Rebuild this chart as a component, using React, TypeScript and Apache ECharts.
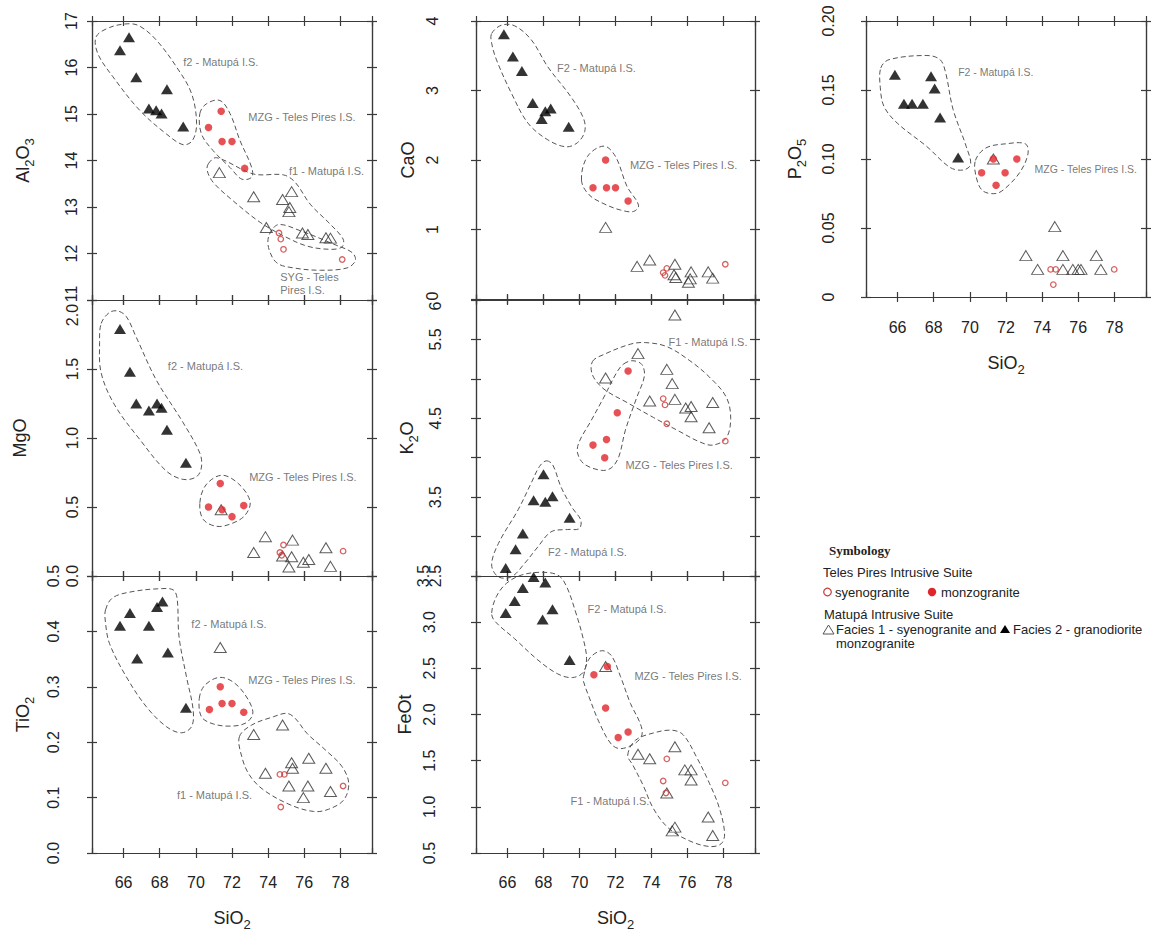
import React, { useEffect, useRef } from "react";
import * as echarts from "echarts";

type P = [number, number];
type Note = [number, number, string];

// ---------- shared x axis (SiO2) ----------
const X_MIN = 64.25;
const X_MAX = 79.75;
const sio2TickLabels = [66, 68, 70, 72, 74, 76, 78];

// ---------- Al2O3 ----------
const al2o3F2: P[] = [[65.8, 16.37], [66.3, 16.65], [66.7, 15.79], [67.4, 15.12], [67.8, 15.08], [68.1, 15.01], [68.4, 15.53], [69.3, 14.73]];
const al2o3Mzg: P[] = [[70.7, 14.71], [71.4, 15.06], [71.45, 14.41], [72.0, 14.41], [72.7, 13.83]];
const al2o3F1: P[] = [[71.3, 13.74], [73.2, 13.22], [75.3, 13.33], [74.8, 13.16], [75.2, 12.99], [75.15, 12.9], [73.9, 12.56], [75.9, 12.44], [76.2, 12.41], [77.2, 12.34], [77.45, 12.33]];
const al2o3Syg: P[] = [[74.6, 12.44], [74.7, 12.31], [74.85, 12.09], [78.1, 11.87]];
const al2o3EnvF2: P[] = [[64.48, 16.66], [65.22, 16.86], [66.24, 16.94], [66.89, 16.89], [67.81, 16.59], [68.93, 16.01], [69.76, 15.44], [70.04, 14.79], [69.81, 14.43], [69.3, 14.34], [68.37, 14.57], [66.89, 15.08], [65.41, 15.8], [64.57, 16.3]];
const al2o3EnvMzg: P[] = [[70.22, 15.01], [70.59, 15.22], [71.33, 15.29], [71.89, 15.01], [72.44, 14.43], [73.09, 13.85], [73.09, 13.64], [72.54, 13.6], [71.89, 13.85], [70.96, 14.21], [70.31, 14.57]];
const al2o3EnvF1: P[] = [[70.69, 13.93], [71.15, 14.06], [73.19, 13.71], [74.85, 13.69], [75.5, 13.53], [76.33, 13.06], [77.44, 12.63], [78.15, 12.31], [78.09, 12.14], [77.44, 12.09], [76.15, 12.16], [74.85, 12.38], [73.56, 12.67], [72.07, 13.13], [70.96, 13.53], [70.63, 13.78]];
const al2o3EnvSyg: P[] = [[74.07, 12.41], [74.57, 12.62], [75.78, 12.49], [77.63, 12.2], [78.65, 12.02], [78.83, 11.85], [78.37, 11.69], [76.89, 11.64], [75.41, 11.69], [74.48, 11.8], [74.02, 12.13]];
const al2o3Notes: Note[] = [[69.3, 16.12, "f2 - Matupá I.S."], [72.9, 14.93, "MZG - Teles Pires I.S."], [75.15, 13.78, "f1 - Matupá I.S."], [74.67, 11.36, "SYG - Teles\nPires I.S."]];

// ---------- MgO ----------
const mgoF2: P[] = [[65.8, 1.79], [66.35, 1.48], [66.7, 1.25], [67.4, 1.2], [67.85, 1.25], [68.1, 1.22], [68.4, 1.06], [69.45, 0.82]];
const mgoMzg: P[] = [[70.7, 0.5], [71.35, 0.67], [71.45, 0.48], [72.0, 0.43], [72.65, 0.51]];
const mgoF1: P[] = [[71.4, 0.48], [73.2, 0.17], [73.85, 0.285], [74.8, 0.145], [75.35, 0.26], [75.3, 0.14], [75.15, 0.065], [75.95, 0.1], [76.25, 0.12], [77.2, 0.205], [77.45, 0.07]];
const mgoSyg: P[] = [[74.85, 0.225], [74.65, 0.17], [74.75, 0.15], [78.15, 0.18]];
const mgoEnvF2: P[] = [[64.76, 1.83], [65.22, 1.91], [65.69, 1.92], [66.15, 1.88], [66.7, 1.73], [67.81, 1.42], [69.3, 1.11], [70.22, 0.89], [70.31, 0.79], [70.04, 0.72], [69.3, 0.7], [68.37, 0.76], [66.89, 0.99], [65.5, 1.24], [64.76, 1.47], [64.67, 1.69]];
const mgoEnvMzg: P[] = [[70.22, 0.53], [70.56, 0.66], [71.43, 0.73], [72.35, 0.67], [73.0, 0.54], [72.72, 0.44], [71.98, 0.38], [71.15, 0.36], [70.41, 0.41]];
const mgoNotes: Note[] = [[68.45, 1.52, "f2 - Matupá I.S."], [72.95, 0.715, "MZG - Teles Pires I.S."]];

// ---------- TiO2 ----------
const tio2F2: P[] = [[65.8, 0.41], [66.35, 0.433], [66.75, 0.351], [67.4, 0.41], [67.85, 0.444], [68.15, 0.454], [68.45, 0.362], [69.45, 0.262]];
const tio2Mzg: P[] = [[70.75, 0.259], [71.35, 0.3], [71.45, 0.27], [72.0, 0.27], [72.65, 0.254]];
const tio2F1: P[] = [[71.35, 0.371], [73.2, 0.214], [74.8, 0.231], [73.85, 0.144], [75.3, 0.163], [75.35, 0.153], [75.15, 0.121], [76.25, 0.171], [76.2, 0.121], [75.95, 0.1], [77.2, 0.153], [77.45, 0.111]];
const tio2Syg: P[] = [[74.65, 0.142], [74.9, 0.142], [74.7, 0.083], [78.15, 0.121]];
const tio2EnvF2: P[] = [[65.0, 0.439], [65.41, 0.461], [66.52, 0.472], [68.0, 0.477], [68.74, 0.475], [68.96, 0.46], [69.07, 0.39], [69.48, 0.318], [69.85, 0.258], [69.76, 0.228], [69.2, 0.217], [68.37, 0.228], [67.26, 0.264], [66.15, 0.318], [65.22, 0.378], [65.0, 0.415]];
const tio2EnvMzg: P[] = [[70.19, 0.279], [70.5, 0.303], [71.33, 0.317], [72.17, 0.306], [72.91, 0.276], [73.15, 0.251], [72.72, 0.234], [71.89, 0.229], [70.96, 0.233], [70.31, 0.246]];
const tio2EnvF1: P[] = [[72.41, 0.21], [73.09, 0.231], [74.3, 0.246], [75.04, 0.252], [75.5, 0.243], [76.15, 0.216], [77.17, 0.186], [78.09, 0.156], [78.46, 0.126], [78.19, 0.096], [77.35, 0.079], [76.52, 0.075], [75.22, 0.087], [73.74, 0.114], [72.96, 0.141], [72.54, 0.174]];
const tio2Notes: Note[] = [[69.75, 0.413, "f2 - Matupá I.S."], [72.9, 0.312, "MZG - Teles Pires I.S."], [68.95, 0.105, "f1 - Matupá I.S."]];

// ---------- CaO ----------
const caoF2: P[] = [[65.8, 3.81], [66.3, 3.49], [66.8, 3.28], [67.4, 2.82], [67.9, 2.59], [68.1, 2.7], [68.4, 2.74], [69.4, 2.48]];
const caoMzg: P[] = [[70.75, 1.6], [71.45, 2.0], [71.5, 1.6], [72.0, 1.6], [72.7, 1.41]];
const caoF1: P[] = [[71.45, 1.03], [73.2, 0.47], [73.9, 0.56], [75.3, 0.5], [75.25, 0.35], [75.35, 0.31], [76.2, 0.39], [76.05, 0.24], [76.15, 0.29], [77.15, 0.39], [77.4, 0.3]];
const caoSyg: P[] = [[74.85, 0.44], [74.65, 0.38], [74.75, 0.34], [78.1, 0.5]];
const caoEnvF2: P[] = [[65.12, 3.82], [65.67, 3.94], [66.4, 3.93], [67.32, 3.73], [68.24, 3.34], [69.52, 2.91], [70.22, 2.6], [70.29, 2.41], [69.89, 2.25], [69.25, 2.19], [68.24, 2.29], [67.14, 2.53], [66.22, 2.96], [65.39, 3.44], [65.12, 3.68]];
const caoEnvMzg: P[] = [[70.11, 1.71], [70.44, 2.05], [71.36, 2.2], [72.0, 2.05], [72.64, 1.62], [73.28, 1.35], [73.01, 1.26], [72.28, 1.28], [71.36, 1.37], [70.53, 1.5]];
const caoNotes: Note[] = [[68.75, 3.32, "F2 - Matupá I.S."], [72.8, 1.93, "MZG - Teles Pires I.S."]];

// ---------- K2O ----------
const k2oF2: P[] = [[65.9, 2.6], [66.45, 2.84], [66.85, 3.04], [67.45, 3.46], [68.0, 3.79], [68.1, 3.44], [68.5, 3.51], [69.45, 3.24]];
const k2oMzg: P[] = [[72.7, 5.1], [72.1, 4.57], [71.5, 4.23], [70.75, 4.16], [71.4, 4.0]];
const k2oF1: P[] = [[75.3, 5.81], [73.25, 5.32], [71.45, 5.01], [74.85, 5.12], [75.15, 4.94], [73.9, 4.72], [75.3, 4.74], [75.9, 4.63], [76.2, 4.65], [76.2, 4.52], [77.4, 4.7], [77.2, 4.38]];
const k2oSyg: P[] = [[74.65, 4.75], [74.75, 4.67], [74.85, 4.43], [78.1, 4.21]];
const k2oEnvF1: P[] = [[70.72, 5.22], [71.36, 5.31], [72.83, 5.44], [73.65, 5.46], [74.84, 5.41], [76.13, 5.23], [77.23, 5.02], [78.15, 4.77], [78.4, 4.5], [78.15, 4.25], [77.41, 4.16], [76.68, 4.2], [75.58, 4.33], [74.11, 4.51], [72.64, 4.7], [71.36, 4.87], [70.72, 5.05]];
const k2oEnvMzg: P[] = [[72.46, 5.19], [72.97, 5.23], [73.47, 5.18], [73.6, 5.03], [73.19, 4.77], [72.55, 4.35], [72.18, 4.01], [71.76, 3.87], [71.21, 3.84], [70.26, 3.92], [69.89, 4.06], [69.98, 4.2], [70.62, 4.46], [71.36, 4.77], [72.09, 5.09]];
const k2oEnvF2: P[] = [[68.15, 3.96], [68.51, 3.91], [68.97, 3.63], [69.61, 3.36], [70.07, 3.21], [69.98, 3.1], [69.34, 3.09], [68.42, 3.06], [67.69, 2.87], [66.95, 2.66], [66.22, 2.49], [65.49, 2.49], [65.12, 2.64], [65.49, 2.91], [66.59, 3.34], [67.32, 3.68], [67.78, 3.89]];
const k2oNotes: Note[] = [[74.95, 5.47, "F1 - Matupá I.S."], [72.55, 3.91, "MZG - Teles Pires I.S."], [68.25, 2.81, "F2 - Matupá I.S."]];

// ---------- FeOt ----------
const feotF2: P[] = [[65.9, 3.1], [66.4, 3.23], [66.85, 3.37], [67.45, 3.49], [67.95, 3.03], [68.1, 3.43], [68.5, 3.14], [69.45, 2.59]];
const feotMzg: P[] = [[70.8, 2.43], [71.55, 2.52], [71.45, 2.07], [72.15, 1.75], [72.7, 1.81]];
const feotF1: P[] = [[71.45, 2.52], [73.25, 1.57], [73.9, 1.52], [75.3, 1.65], [75.85, 1.4], [76.2, 1.4], [76.2, 1.29], [74.85, 1.15], [75.3, 0.78], [75.15, 0.74], [77.15, 0.89], [77.4, 0.69]];
const feotSyg: P[] = [[74.85, 1.52], [74.65, 1.28], [74.8, 1.15], [78.1, 1.26]];
const feotEnvF2: P[] = [[65.12, 3.1], [65.39, 3.28], [65.94, 3.42], [66.77, 3.51], [67.87, 3.54], [68.79, 3.51], [69.25, 3.4], [69.8, 3.1], [70.22, 2.81], [70.39, 2.61], [70.22, 2.46], [69.61, 2.4], [68.79, 2.44], [67.69, 2.59], [66.4, 2.82], [65.3, 3.01]];
const feotEnvMzg: P[] = [[70.22, 2.41], [70.53, 2.6], [71.21, 2.69], [71.76, 2.64], [72.28, 2.41], [72.83, 2.12], [73.38, 1.9], [73.47, 1.78], [73.1, 1.69], [72.28, 1.63], [71.76, 1.68], [71.08, 1.92], [70.53, 2.19], [70.22, 2.36]];
const feotEnvF1: P[] = [[72.68, 1.56], [73.1, 1.72], [74.11, 1.8], [75.12, 1.83], [75.76, 1.78], [76.5, 1.54], [77.23, 1.25], [77.78, 0.98], [78.06, 0.71], [77.87, 0.6], [77.23, 0.57], [76.13, 0.63], [74.94, 0.77], [74.11, 0.98], [73.52, 1.24], [72.97, 1.45]];
const feotNotes: Note[] = [[70.45, 3.14, "F2 - Matupá I.S."], [73.05, 2.42, "MZG - Teles Pires I.S."], [69.5, 1.06, "F1 - Matupá I.S."]];

// ---------- P2O5 ----------
const p2o5F2: P[] = [[65.85, 0.161], [66.35, 0.14], [66.8, 0.14], [67.4, 0.14], [67.85, 0.16], [68.05, 0.151], [68.35, 0.13], [69.35, 0.101]];
const p2o5Mzg: P[] = [[70.65, 0.09], [71.3, 0.1], [71.45, 0.081], [71.95, 0.09], [72.6, 0.1]];
const p2o5F1: P[] = [[71.3, 0.1], [73.1, 0.03], [73.75, 0.02], [74.7, 0.051], [75.15, 0.03], [75.15, 0.02], [75.7, 0.02], [76.0, 0.02], [76.15, 0.02], [77.0, 0.03], [77.25, 0.02]];
const p2o5Syg: P[] = [[74.47, 0.02], [74.75, 0.02], [74.62, 0.009], [77.99, 0.02]];
const p2o5EnvF2: P[] = [[65.07, 0.166], [65.53, 0.172], [67.62, 0.175], [68.35, 0.172], [68.65, 0.163], [69.07, 0.136], [69.8, 0.109], [70.04, 0.096], [69.62, 0.092], [68.89, 0.094], [67.62, 0.109], [65.98, 0.126], [65.25, 0.138], [65.04, 0.152]];
const p2o5EnvMzg: P[] = [[70.31, 0.099], [70.89, 0.108], [71.98, 0.111], [73.07, 0.111], [73.22, 0.104], [72.8, 0.091], [71.98, 0.079], [71.44, 0.075], [70.71, 0.077], [70.35, 0.087]];
const p2o5Notes: Note[] = [[69.35, 0.163, "F2 - Matupá I.S."], [73.58, 0.093, "MZG - Teles Pires I.S."]];

// ---------- styling ----------
const FONT = '"Liberation Sans", Arial, Helvetica, sans-serif';
const AXIS_COLOR = "#3a3a3a";
const TEXT_COLOR = "#222";
const NOTE_COLOR = "#555";
const RED = "#e1262b";
const RED_OPEN = "#cc3a3a";

const nameRich = {
  b: { fontSize: 18, fontFamily: FONT, color: TEXT_COLOR, verticalAlign: "top", padding: [0, 0, 4, 0] },
  s: { fontSize: 13, fontFamily: FONT, color: TEXT_COLOR, verticalAlign: "bottom" },
};

const near = (a: number, b: number) => Math.abs(a - b) < 1e-9;

interface Panel {
  name: string;
  left: number;
  top: number;
  width: number;
  height: number;
  yMin: number;
  yMax: number;
  yStep: number;
  labelMargin: number;
  nameGap: number;
  xLabels: boolean;
  xNameGap?: number;
  xLabelMargin?: number;
  fmt: (v: number) => string;
  rich?: Record<string, any>;
  f2: P[];
  mzg: P[];
  f1: P[];
  syg: P[];
  envs: P[][];
  notes: Note[];
  noteSize?: number;
}

const lblRich = (padding: number[]) => ({ fontSize: 16, fontFamily: FONT, color: TEXT_COLOR, padding });

const panels: Panel[] = [
  {
    name: "{b|Al}{s|2}{b|O}{s|3}", left: 92, top: 21, width: 280, height: 279,
    yMin: 11, yMax: 17, yStep: 1, labelMargin: 13, nameGap: 56, xLabels: false,
    fmt: (v) => (near(v, 11) ? "{lo|11}" : String(Math.round(v))),
    rich: { lo: lblRich([0, 0, 0, 12]) },
    f2: al2o3F2, mzg: al2o3Mzg, f1: al2o3F1, syg: al2o3Syg,
    envs: [al2o3EnvF2, al2o3EnvMzg, al2o3EnvF1, al2o3EnvSyg], notes: al2o3Notes,
  },
  {
    name: "{b|MgO}", left: 92, top: 300, width: 280, height: 276,
    yMin: 0, yMax: 2, yStep: 0.5, labelMargin: 12, nameGap: 59, xLabels: false,
    fmt: (v) => (near(v, 2) ? "{hi|2.0}" : v.toFixed(1)),
    rich: { hi: lblRich([0, 30, 0, 0]) },
    f2: mgoF2, mzg: mgoMzg, f1: mgoF1, syg: mgoSyg,
    envs: [mgoEnvF2, mgoEnvMzg], notes: mgoNotes,
  },
  {
    name: "{b|TiO}{s|2}", left: 92, top: 576, width: 280, height: 277,
    yMin: 0, yMax: 0.5, yStep: 0.1, labelMargin: 31, nameGap: 56, xLabels: true, xNameGap: 56, xLabelMargin: 21,
    fmt: (v) => v.toFixed(1),
    f2: tio2F2, mzg: tio2Mzg, f1: tio2F1, syg: tio2Syg,
    envs: [tio2EnvF2, tio2EnvMzg, tio2EnvF1], notes: tio2Notes,
  },
  {
    name: "{b|CaO}", left: 476, top: 21, width: 279, height: 278,
    yMin: 0, yMax: 4, yStep: 1, labelMargin: 36, nameGap: 55, xLabels: false,
    fmt: (v) => (near(v, 0) ? "{lo|0}" : String(Math.round(v))),
    rich: { lo: lblRich([0, 0, 0, 6]) },
    f2: caoF2, mzg: caoMzg, f1: caoF1, syg: caoSyg,
    envs: [caoEnvF2, caoEnvMzg], notes: caoNotes,
  },
  {
    name: "{b|K}{s|2}{b|O}", left: 476, top: 300, width: 279, height: 276,
    yMin: 2.5, yMax: 6, yStep: 0.5, labelMargin: 33, nameGap: 56, xLabels: false,
    fmt: (v) => {
      if (near(v, 6)) return "{hi|6}";
      if (near(v, Math.round(v))) return "";
      return v.toFixed(1);
    },
    rich: { hi: lblRich([0, 12, 0, 0]) },
    f2: k2oF2, mzg: k2oMzg, f1: k2oF1, syg: k2oSyg,
    envs: [k2oEnvF1, k2oEnvMzg, k2oEnvF2], notes: k2oNotes,
  },
  {
    name: "{b|FeOt}", left: 476, top: 576, width: 279, height: 277,
    yMin: 0.5, yMax: 3.5, yStep: 0.5, labelMargin: 39, nameGap: 55, xLabels: true, xNameGap: 56, xLabelMargin: 21,
    fmt: (v) => (near(v, 3.5) ? "{far|3.5}" : v.toFixed(1)),
    rich: { far: lblRich([0, 0, 6, 0]) },
    f2: feotF2, mzg: feotMzg, f1: feotF1, syg: feotSyg,
    envs: [feotEnvF2, feotEnvMzg, feotEnvF1], notes: feotNotes,
  },
  {
    name: "{b|P}{s|2}{b|O}{s|5}", left: 866, top: 21, width: 280, height: 276,
    yMin: 0, yMax: 0.2, yStep: 0.05, labelMargin: 30, nameGap: 58, xLabels: true, xNameGap: 57, xLabelMargin: 22,
    fmt: (v) => (near(v, 0) ? "0" : v.toFixed(2)),
    f2: p2o5F2, mzg: p2o5Mzg, f1: p2o5F1, syg: p2o5Syg,
    envs: [p2o5EnvF2, p2o5EnvMzg], notes: p2o5Notes, noteSize: 10.5,
  },
];

function buildOption() {
  const grids: any[] = [];
  const xAxes: any[] = [];
  const yAxes: any[] = [];
  const series: any[] = [];
  const lineStyle = { color: AXIS_COLOR, width: 1.2 };

  panels.forEach((p, i) => {
    const rect = { left: p.left, top: p.top, width: p.width, height: p.height, containLabel: false, outerBoundsMode: "none" };
    grids.push({ ...rect }, { ...rect });
    const gMain = 2 * i;
    const gOver = 2 * i + 1;
    const tick = (inside: boolean) => ({ show: true, inside, length: 5, lineStyle });

    const xBase = {
      type: "value", min: X_MIN, max: X_MAX, splitNumber: 7,
      splitLine: { show: false },
      axisLine: { show: true, onZero: false, lineStyle },
      axisLabel: { show: false },
    };
    const xLabelFmt = (v: number) => {
      const r = Math.round(v);
      return near(v, r) && sio2TickLabels.includes(r) ? String(r) : "";
    };
    xAxes.push(
      {
        ...xBase, gridIndex: gMain, position: "bottom", axisTick: tick(false),
        axisLabel: p.xLabels
          ? { show: true, formatter: xLabelFmt, fontSize: 16, fontFamily: FONT, color: TEXT_COLOR, margin: p.xLabelMargin, showMinLabel: false, showMaxLabel: false }
          : { show: false },
        name: p.xLabels ? "{b|SiO}{s|2}" : "",
        nameLocation: "middle",
        nameGap: p.xNameGap || 56,
        nameTextStyle: { rich: nameRich },
      },
      { ...xBase, gridIndex: gMain, position: "top", axisTick: tick(false) },
      { ...xBase, gridIndex: gOver, position: "bottom", axisTick: tick(true) },
      { ...xBase, gridIndex: gOver, position: "top", axisTick: tick(true) }
    );

    const yBase = {
      type: "value", min: p.yMin, max: p.yMax, interval: p.yStep,
      splitLine: { show: false },
      axisLine: { show: true, onZero: false, lineStyle },
      axisLabel: { show: false },
    };
    yAxes.push(
      {
        ...yBase, gridIndex: gMain, position: "left", axisTick: tick(false),
        axisLabel: {
          show: true, rotate: 90, formatter: p.fmt, fontSize: 16, fontFamily: FONT, color: TEXT_COLOR,
          margin: p.labelMargin, rich: p.rich || {},
        },
        name: p.name, nameLocation: "middle", nameGap: p.nameGap,
        nameTextStyle: { rich: nameRich },
      },
      { ...yBase, gridIndex: gMain, position: "right", axisTick: tick(false) },
      { ...yBase, gridIndex: gOver, position: "left", axisTick: tick(true) },
      { ...yBase, gridIndex: gOver, position: "right", axisTick: tick(true) }
    );

    const ax = 4 * i;
    p.envs.forEach((env) => {
      series.push({
        type: "custom", xAxisIndex: ax, yAxisIndex: ax, silent: true, clip: false, z: 1,
        data: [[0, 0]],
        renderItem: (_params: any, api: any) => ({
          type: "polygon",
          shape: { points: env.map((pt) => api.coord(pt)), smooth: 0.35 },
          style: { fill: "none", stroke: "#555", lineWidth: 1, lineDash: [5, 3] },
        }),
      });
    });

    series.push(
      {
        type: "scatter", xAxisIndex: ax, yAxisIndex: ax, silent: true, z: 3, data: p.f1,
        symbol: "triangle", symbolSize: [12, 10],
        itemStyle: { color: "rgba(255,255,255,0)", borderColor: "#333", borderWidth: 1 },
      },
      {
        type: "scatter", xAxisIndex: ax, yAxisIndex: ax, silent: true, z: 4, data: p.syg,
        symbol: "circle", symbolSize: 5.5,
        itemStyle: { color: "rgba(255,255,255,0)", borderColor: RED_OPEN, borderWidth: 1.3 },
      },
      {
        type: "scatter", xAxisIndex: ax, yAxisIndex: ax, silent: true, z: 5, data: p.f2,
        symbol: "triangle", symbolSize: [12, 10],
        itemStyle: { color: "#000" },
      },
      {
        type: "scatter", xAxisIndex: ax, yAxisIndex: ax, silent: true, z: 6, data: p.mzg,
        symbol: "circle", symbolSize: 7.5,
        itemStyle: { color: RED },
      },
      {
        type: "scatter", xAxisIndex: ax, yAxisIndex: ax, silent: true, z: 7,
        data: p.notes.map((n) => ({ value: [n[0], n[1]], name: n[2] })),
        symbol: "circle", symbolSize: 0,
        label: {
          show: true, position: "right", distance: 0, formatter: "{b}",
          color: NOTE_COLOR, fontSize: p.noteSize || 11, fontFamily: FONT, lineHeight: 13, align: "left",
        },
      }
    );
  });

  const legendFont = `13px ${FONT}`;
  const txt = (x: number, y: number, text: string, font = legendFont) => ({
    type: "text", x, y, silent: true,
    style: { text, font, fill: TEXT_COLOR, textVerticalAlign: "middle", verticalAlign: "middle", textAlign: "left" },
  });

  const graphic = [
    txt(829, 550, "Symbology", `bold 13px "Liberation Serif", "Times New Roman", serif`),
    txt(823, 572, "Teles Pires Intrusive Suite"),
    { type: "circle", silent: true, shape: { cx: 827.5, cy: 592, r: 3.8 }, style: { fill: "none", stroke: RED_OPEN, lineWidth: 1.2 } },
    txt(835, 592, "syenogranite"),
    { type: "circle", silent: true, shape: { cx: 932, cy: 592, r: 4.2 }, style: { fill: RED } },
    txt(941, 592, "monzogranite"),
    txt(824, 614, "Matupá Intrusive Suite"),
    { type: "polygon", silent: true, shape: { points: [[823, 634], [834, 634], [828.5, 625]] }, style: { fill: "none", stroke: "#555", lineWidth: 1 } },
    txt(836, 629, "Facies 1 - syenogranite and"),
    { type: "polygon", silent: true, shape: { points: [[1000, 633], [1010, 633], [1005, 625]] }, style: { fill: "#000" } },
    txt(1013, 629, "Facies 2 - granodiorite"),
    txt(836, 643, "monzogranite"),
  ];

  return {
    animation: false,
    backgroundColor: "#fff",
    grid: grids,
    xAxis: xAxes,
    yAxis: yAxes,
    series,
    graphic,
  };
}

export default function App() {
  const ref = useRef<HTMLDivElement>(null);
  useEffect(() => {
    if (!ref.current) return;
    const chart = echarts.init(ref.current, undefined, { renderer: "svg" });
    chart.setOption(buildOption() as any);
    return () => chart.dispose();
  }, []);
  return (
    <div
      ref={ref}
      style={{ position: "fixed", left: 0, top: 0, width: 1151, height: 936, background: "#fff" }}
    />
  );
}
